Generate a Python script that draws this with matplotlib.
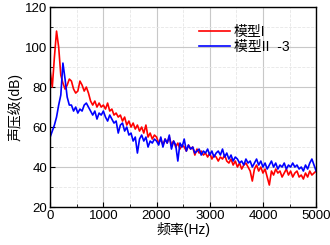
import numpy as np
import matplotlib
matplotlib.use('Agg')
import matplotlib.pyplot as plt
from matplotlib.ticker import MultipleLocator

plt.rcParams['font.family'] = ['Liberation Sans', 'Noto Sans CJK SC']

# frequency grid (Hz), one point every 40 Hz
freq = np.arange(0, 5001, 40)

# 模型I  (red)
model_1 = [
    88, 80, 95, 108, 100, 86, 82, 79, 81, 84,
    83, 79, 77, 78, 83, 81, 78, 80, 77, 73,
    71, 73, 70, 72, 70, 71, 69, 72, 68, 69,
    66, 67, 65, 66, 63, 65, 61, 63, 60, 62,
    59, 61, 58, 60, 57, 61, 55, 57, 54, 56,
    55, 52, 54, 51, 54, 52, 55, 51, 53, 50,
    52, 49, 51, 50, 48, 51, 49, 50, 46, 49,
    47, 48, 46, 47, 45, 47, 44, 46, 45, 43,
    45, 44, 46, 43, 42, 44, 41, 43, 40, 42,
    39, 41, 42, 40, 38, 33, 39, 41, 38, 40,
    37, 39, 35, 31, 38, 36, 39, 37, 38, 35,
    37, 39, 36, 38, 35, 37, 38, 35, 36, 34,
    37, 35, 38, 36, 37, 38,
]

# 模型II -3  (blue)
model_2 = [
    55, 58, 61, 65, 71, 76, 92, 84, 75, 71,
    71, 68, 70, 67, 69, 68, 71, 72, 70, 68,
    66, 68, 64, 67, 66, 68, 65, 63, 66, 64,
    62, 63, 57, 61, 62, 58, 60, 56, 57, 53,
    55, 47, 54, 56, 53, 55, 50, 53, 52, 54,
    53, 51, 55, 50, 54, 52, 56, 49, 53, 51,
    43, 52, 50, 54, 48, 51, 49, 50, 47, 48,
    49, 46, 48, 47, 49, 46, 48, 45, 47, 48,
    46, 49, 45, 47, 44, 46, 43, 45, 44, 42,
    43, 41, 44, 42, 43, 40, 42, 44, 41, 43,
    40, 42, 39, 41, 43, 40, 42, 39, 41, 40,
    42, 39, 41, 40, 42, 40, 41, 39, 40, 38,
    41, 39, 42, 44, 41, 38,
]

labels = ['模型I', '模型II  -3']

fig = plt.figure(figsize=(3.3, 2.45), dpi=100)
ax = fig.add_axes([0.152, 0.155, 0.806, 0.816])

ax.plot(freq, model_1, color='#ff0000', lw=1.2, label=labels[0])
ax.plot(freq, model_2, color='#0000ff', lw=1.2, label=labels[1])

ax.set_xlim(0, 5000)
ax.set_ylim(20, 120)
ax.xaxis.set_major_locator(MultipleLocator(1000))
ax.xaxis.set_minor_locator(MultipleLocator(500))
ax.yaxis.set_major_locator(MultipleLocator(20))
ax.yaxis.set_minor_locator(MultipleLocator(10))

ax.grid(which='major', color='#c8c8c8', lw=0.8)
ax.grid(which='minor', color='#e6e6e6', lw=0.6, ls='--')
ax.set_axisbelow(True)

ax.tick_params(which='both', direction='in', labelsize=9.5, pad=2)
ax.tick_params(which='major', length=3.5, width=0.8)
ax.tick_params(which='minor', length=2, width=0.6)
for s in ax.spines.values():
    s.set_linewidth(1.0)

ax.set_xlabel('频率(Hz)', fontsize=10, labelpad=0)
ax.set_ylabel('声压级(dB)', fontsize=10, labelpad=2)

ax.legend(loc='upper right', bbox_to_anchor=(0.92, 0.94), frameon=False,
          fontsize=10, handlelength=2.2, handletextpad=0.3, labelspacing=0.1,
          borderaxespad=0)

plt.savefig('out.png', dpi=100)
